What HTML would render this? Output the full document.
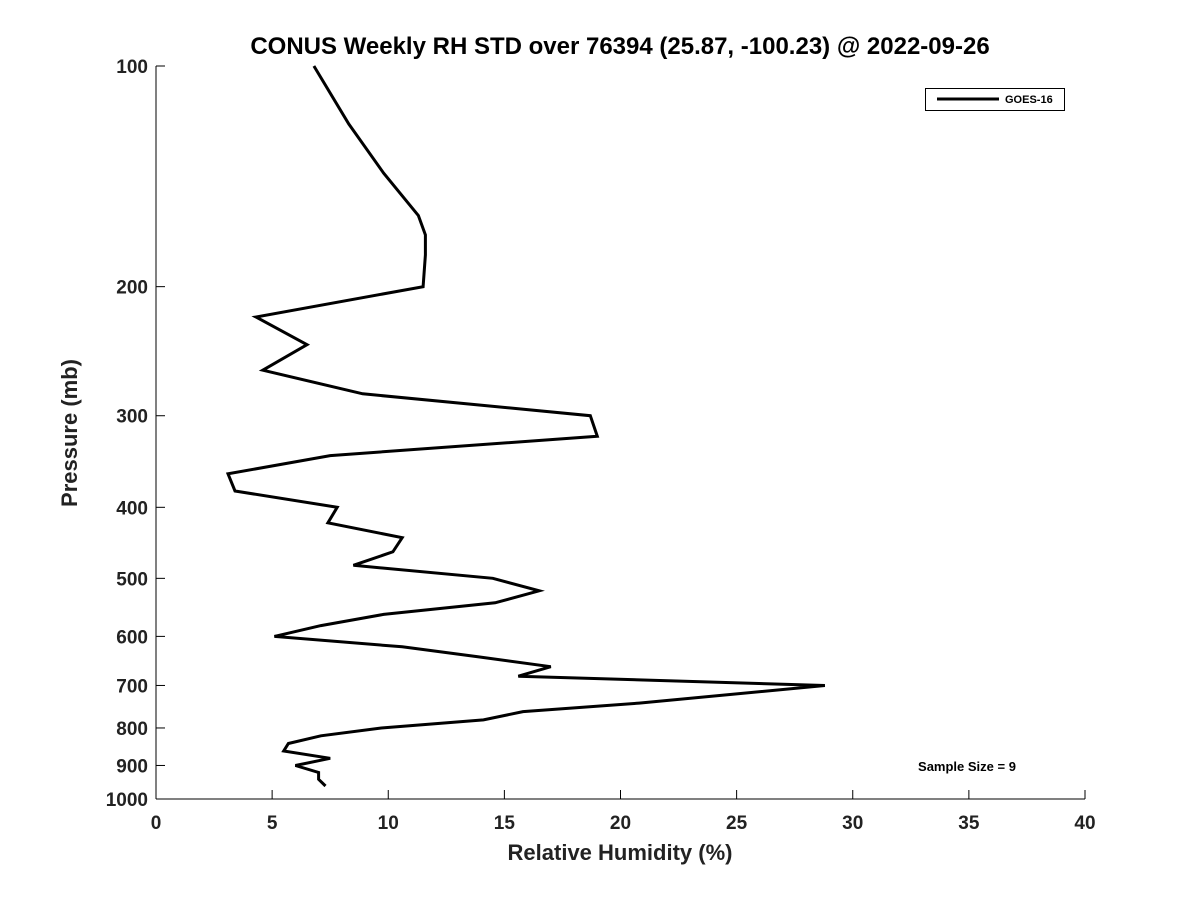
<!DOCTYPE html>
<html><head><meta charset="utf-8"><style>
body{margin:0;background:#fff}
svg{display:block;font-family:"Liberation Sans","DejaVu Sans",sans-serif}
</style></head><body>
<svg id="chart" width="1200" height="900">
<rect width="1200" height="900" fill="#fff"/>
<text x="620" y="54" text-anchor="middle" font-size="24" font-weight="bold" fill="#000">CONUS Weekly RH STD over 76394 (25.87, -100.23) @ 2022-09-26</text>
<g id="axes"></g>
<path id="line" fill="none" stroke="#000" stroke-width="3" stroke-linejoin="miter"/>
<g>
<rect x="925.5" y="88.5" width="139" height="22" fill="#fff" stroke="#000" stroke-width="1"/>
<line x1="937" y1="99" x2="999" y2="99" stroke="#000" stroke-width="3"/>
<text x="1005" y="103" font-size="11" font-weight="bold">GOES-16</text>
</g>
<text x="967" y="771" text-anchor="middle" font-size="13" font-weight="bold">Sample Size = 9</text>
<text x="620" y="860" text-anchor="middle" font-size="22" font-weight="bold" fill="#222">Relative Humidity (%)</text>
<text transform="translate(77,433) rotate(-90)" text-anchor="middle" font-size="22" font-weight="bold" fill="#222">Pressure (mb)</text>
</svg>
<script>
const pressures=[100,120,140,160,170,181,200,220,240,260,280,300,320,340,360,380,400,420,440,460,480,500,520,540,560,580,600,620,640,660,680,700,740,760,780,800,820,840,860,880,900,920,940,960];
const rhStd=[6.8,8.3,9.8,11.3,11.6,11.6,11.5,4.3,6.5,4.6,8.9,18.7,19.0,7.5,3.1,3.4,7.8,7.4,10.6,10.2,8.5,14.5,16.5,14.6,9.8,7.1,5.1,10.6,13.9,17.0,15.6,28.8,20.8,15.8,14.1,9.7,7.1,5.7,5.5,7.5,6.0,7.0,7.0,7.3];
const xTicks=[0,5,10,15,20,25,30,35,40];
const yTicks=[100,200,300,400,500,600,700,800,900,1000];
const X0=156,X1=1085,Y0=66,Y1=799,xMin=0,xMax=40,pMin=100,pMax=1000;
const sx=v=>X0+(v-xMin)/(xMax-xMin)*(X1-X0);
const sy=p=>Y0+(Math.log10(p)-Math.log10(pMin))/(Math.log10(pMax)-Math.log10(pMin))*(Y1-Y0);
const NS="http://www.w3.org/2000/svg";
const g=document.getElementById('axes');
function mk(t,a){const e=document.createElementNS(NS,t);for(const k in a)e.setAttribute(k,a[k]);g.appendChild(e);return e;}
let e=mk('line',{x1:X0,y1:Y1,x2:X1,y2:Y1,stroke:'#000','stroke-width':1});


e=mk('line',{x1:X0,y1:Y0,x2:X0,y2:Y1,stroke:'#000','stroke-width':1});


xTicks.forEach(v=>{
 const t=mk('line',{x1:sx(v),y1:Y1,x2:sx(v),y2:Y1-9,stroke:'#000'});
 
 
 const l=mk('text',{x:sx(v),y:Y1+30,'text-anchor':'middle','font-size':19,'font-weight':'bold',fill:'#222'});
 l.textContent=v;
 
 
});
yTicks.forEach(v=>{
 const t=mk('line',{x1:X0,y1:sy(v),x2:X0+9,y2:sy(v),stroke:'#000'});
 
 
 const l=mk('text',{x:X0-8,y:sy(v)+7,'text-anchor':'end','font-size':19,'font-weight':'bold',fill:'#222'});
 l.textContent=v;
 
 
});
document.getElementById('line').setAttribute('d',pressures.map((p,i)=>(i?'L':'M')+sx(rhStd[i]).toFixed(1)+','+sy(p).toFixed(1)).join(''));
</script>
</body></html>
